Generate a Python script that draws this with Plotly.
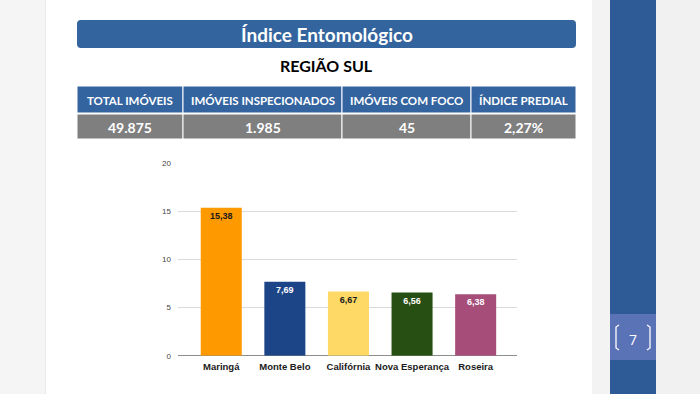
import plotly.graph_objects as go

# ---- data ----
categories = ["Maringá", "Monte Belo", "Califórnia", "Nova Esperança", "Roseira"]
values = [15.38, 7.69, 6.67, 6.56, 6.38]
bar_colors = ["#FF9900", "#1C4587", "#FFD966", "#274E13", "#A64D79"]
label_colors = ["#1a1a1a", "#FFFFFF", "#1a1a1a", "#FFFFFF", "#FFFFFF"]
y_ticks = [0, 5, 10, 15, 20]

table_headers = ["TOTAL IMÓVEIS", "IMÓVEIS INSPECIONADOS", "IMÓVEIS COM FOCO", "ÍNDICE PREDIAL"]
table_values = ["49.875", "1.985", "45", "2,27%"]

title_text = "Índice Entomológico"
subtitle_text = "REGIÃO SUL"
page_number = "7"

W, H = 700, 394

def px(x):
    return x / W

def py(y):
    return 1 - y / H

fig = go.Figure()
fig.add_trace(go.Bar(
    x=categories, y=values,
    marker=dict(color=bar_colors, line=dict(width=0)),
    width=0.645,
    text=["<b>" + f"{v:.2f}".replace(".", ",") + "</b>" for v in values],
    textposition="inside", insidetextanchor="end",
    textfont=dict(family="Liberation Sans", size=9, color=label_colors),
    textangle=0,
    hoverinfo="skip",
))

shapes = []
annotations = []

# slide background tints
shapes.append(dict(type="rect", xref="paper", yref="paper", x0=0, x1=px(45), y0=0, y1=1,
                   fillcolor="#F5F5F5", line_width=0, layer="below"))
shapes.append(dict(type="rect", xref="paper", yref="paper", x0=px(45), x1=px(46), y0=0, y1=1,
                   fillcolor="#EAEAEA", line_width=0, layer="below"))
shapes.append(dict(type="rect", xref="paper", yref="paper", x0=px(592), x1=px(610), y0=0, y1=1,
                   fillcolor="#F3F3F3", line_width=0, layer="below"))
shapes.append(dict(type="rect", xref="paper", yref="paper", x0=px(656), x1=1, y0=0, y1=1,
                   fillcolor="#F1F1F1", line_width=0, layer="below"))

# right vertical band
shapes.append(dict(type="rect", xref="paper", yref="paper", x0=px(610), x1=px(656), y0=0, y1=1,
                   fillcolor="#2E5A96", line_width=0, layer="below"))
shapes.append(dict(type="rect", xref="paper", yref="paper", x0=px(610), x1=px(656), y0=py(360), y1=py(314),
                   fillcolor="#5A72B6", line_width=0, layer="below"))
# brackets around page number
shapes.append(dict(type="path", xref="paper", yref="paper",
                   path=f"M {px(619)} {py(325)} L {px(616)} {py(327)} L {px(616)} {py(348)} L {px(619)} {py(350)}",
                   line=dict(color="white", width=1.3)))
shapes.append(dict(type="path", xref="paper", yref="paper",
                   path=f"M {px(647)} {py(325)} L {px(650)} {py(327)} L {px(650)} {py(348)} L {px(647)} {py(350)}",
                   line=dict(color="white", width=1.3)))
annotations.append(dict(text=page_number, xref="paper", yref="paper", x=px(633), y=py(339),
                        showarrow=False, font=dict(family="Open Sans", size=14, color="white"),
                        xanchor="center", yanchor="middle"))

# title bar with rounded corners
x0, x1, y0, y1, r = 77, 576, 20, 48, 4
path = (f"M {px(x0+r)} {py(y0)} L {px(x1-r)} {py(y0)} Q {px(x1)} {py(y0)} {px(x1)} {py(y0+r)} "
        f"L {px(x1)} {py(y1-r)} Q {px(x1)} {py(y1)} {px(x1-r)} {py(y1)} "
        f"L {px(x0+r)} {py(y1)} Q {px(x0)} {py(y1)} {px(x0)} {py(y1-r)} "
        f"L {px(x0)} {py(y0+r)} Q {px(x0)} {py(y0)} {px(x0+r)} {py(y0)} Z")
shapes.append(dict(type="path", xref="paper", yref="paper", path=path,
                   fillcolor="#33649D", line_width=0, layer="below"))
annotations.append(dict(text=f"<b>{title_text}</b>", xref="paper", yref="paper", x=px(326.5), y=py(34),
                        showarrow=False, font=dict(family="Lato", size=19, color="white"),
                        xanchor="center", yanchor="middle"))
annotations.append(dict(text=f"<b>{subtitle_text}</b>", xref="paper", yref="paper", x=px(326.5), y=py(66),
                        showarrow=False, font=dict(family="Lato", size=16, color="black"),
                        xanchor="center", yanchor="middle"))

# table
col_edges = [77, 183, 342, 471, 576]
for i in range(4):
    a, b = col_edges[i], col_edges[i + 1]
    shapes.append(dict(type="rect", xref="paper", yref="paper", x0=px(a), x1=px(b), y0=py(113), y1=py(86),
                       fillcolor="#3464A0", line=dict(color="white", width=1), layer="below"))
    shapes.append(dict(type="rect", xref="paper", yref="paper", x0=px(a), x1=px(b), y0=py(139), y1=py(114),
                       fillcolor="#7F7F7F", line=dict(color="white", width=1), layer="below"))
    annotations.append(dict(text=f"<b>{table_headers[i]}</b>", xref="paper", yref="paper",
                            x=px((a + b) / 2), y=py(100), showarrow=False,
                            font=dict(family="Lato", size=11.5, color="white"),
                            xanchor="center", yanchor="middle"))
    annotations.append(dict(text=f"<b>{table_values[i]}</b>", xref="paper", yref="paper",
                            x=px((a + b) / 2), y=py(127), showarrow=False,
                            font=dict(family="Lato", size=14, color="white"),
                            xanchor="center", yanchor="middle"))

fig.update_layout(
    width=W, height=H,
    margin=dict(l=0, r=0, t=0, b=0),
    paper_bgcolor="white", plot_bgcolor="rgba(0,0,0,0)",
    showlegend=False,
    shapes=shapes, annotations=annotations,
    bargap=0.3,
    xaxis=dict(domain=[px(178), px(517)], range=[-0.68, 4.65], showgrid=False,
               showline=False, zeroline=False, ticks="", automargin=False,
               ticklabelstandoff=4,
               tickfont=dict(family="Liberation Sans", size=9.5, color="#1a1a1a"),
               tickprefix="<b>", ticksuffix="</b>", fixedrange=True),
    yaxis=dict(domain=[py(355.7), py(163.3)], range=[0, 20], tickvals=y_ticks,
               showgrid=True, gridcolor="#DADADA", gridwidth=1,
               zeroline=True, zerolinecolor="#8C8C8C", zerolinewidth=1.3,
               showline=False, ticks="", automargin=False, ticklabelstandoff=6,
               tickfont=dict(family="Liberation Sans", size=8, color="#444444"),
               fixedrange=True),
    uniformtext=dict(mode=False),
)

fig.write_html("out.html", config={"displayModeBar": False},
               post_script="document.body.style.margin='0';document.body.style.overflow='hidden';")
